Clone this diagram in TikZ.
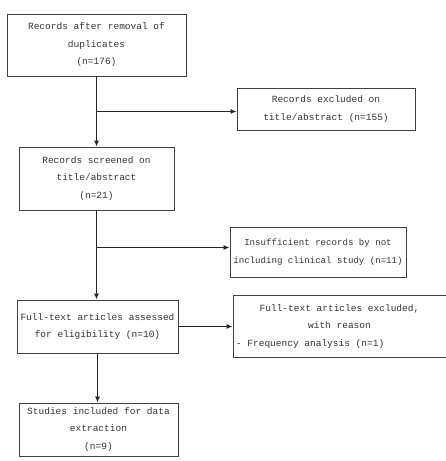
\documentclass[tikz,border=0pt]{standalone}
\usepackage{fontspec}
\newfontfamily\flowfont{Liberation Mono}
\usetikzlibrary{positioning,arrows.meta}

\begin{document}
\begin{tikzpicture}[x=1pt, y=-1pt,
    box/.style={draw=black!75, line width=1pt, align=center, inner sep=2pt,
                font=\flowfont\fontsize{9.5}{17.5}\selectfont, text=black!80},
    arr/.style={draw=black!85, line width=0.9pt, -{Latex[length=6pt,width=5pt]}}]

    \useasboundingbox (0,0) rectangle (446,461);

    % left column
    \node[box, minimum width=179pt, minimum height=62pt] (rec) at (96.5,45) {Records after removal of\\duplicates\\(n=176)};
    \node[box, below=70pt of rec, minimum width=155pt, minimum height=63pt] (scr) {Records screened on\\title/abstract\\(n=21)};
    \node[box, below=89pt of scr, xshift=1pt, minimum width=161pt, minimum height=53pt] (full) {Full-text articles assessed\\for eligibility (n=10)};
    \node[box, below=49pt of full, xshift=1pt, minimum width=159pt, minimum height=53pt] (incl) {Studies included for data\\extraction\\(n=9)};

    % right column
    \node[box, minimum width=178pt, minimum height=42pt] (excl) at (326,109) {Records excluded on\\title/abstract (n=155)};
    \node[box, font=\flowfont\fontsize{9.1}{17.5}\selectfont, minimum width=176pt, minimum height=50pt] (insuf) at (318,252) {Insufficient records by not\\including clinical study (n=11)};
    \node[box, right=54pt of full, minimum width=213pt, minimum height=62pt] (fexcl) {Full-text articles excluded,\\with reason\\\makebox[207pt][l]{- Frequency analysis (n=1)}};

    \coordinate (b1) at ([yshift=-35pt]rec.south);
    \coordinate (b2) at ([yshift=-37pt]scr.south);

    \draw[arr] (rec) -- (scr);
    \draw[arr] (b1) -- (b1 -| excl.west);
    \draw[arr] (scr.south) -- (scr.south |- full.north);
    \draw[arr] (b2) -- (b2 -| insuf.west);
    \draw[arr] (full) -- (fexcl);
    \draw[arr] (full.south) -- (full.south |- incl.north);
\end{tikzpicture}
\end{document}
